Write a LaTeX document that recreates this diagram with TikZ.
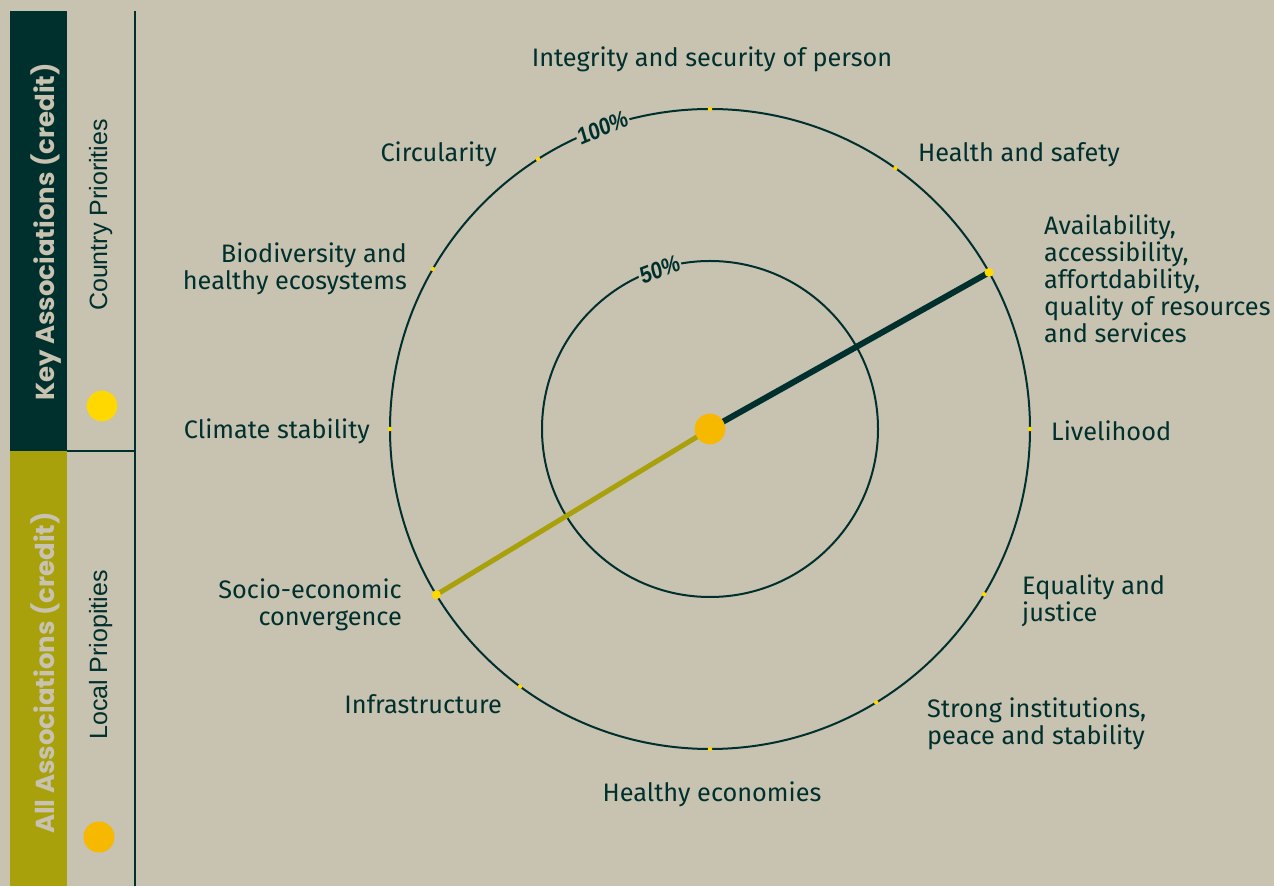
\documentclass[tikz,border=0pt]{standalone}
\usepackage{fontspec}
\setmainfont{Fira Sans}
\newfontfamily\headfont{Poppins}
\newfontfamily\sidefont{Liberation Sans}
\usetikzlibrary{calc}
\definecolor{sand}{HTML}{C8C2B0}
\definecolor{ink}{HTML}{00302E}
\definecolor{olive}{HTML}{A9A10C}
\definecolor{gold}{HTML}{FFD800}
\definecolor{amber}{HTML}{F7B900}
\tikzset{
  goal/.style={text=ink, font=\fontsize{25.3}{27}\selectfont, inner sep=0pt},
  tick/.style={circle, fill=gold, inner sep=0pt, minimum size=4.5pt},
  endpt/.style={circle, fill=gold, inner sep=0pt, minimum size=9pt},
  ring/.style={draw=ink, line width=2pt},
  pct/.style={fill=sand, text=ink, font=\sidefont\bfseries\fontsize{24}{24}\selectfont, inner sep=2pt, xscale=0.84},
  head/.style={rotate=90, anchor=base, text=sand, font=\headfont\bfseries\fontsize{26}{26}\selectfont, inner sep=0pt},
  prio/.style={rotate=90, anchor=base, text=ink, font=\sidefont\fontsize{25}{25}\selectfont, inner sep=0pt}
}
\begin{document}
\begin{tikzpicture}[x=1pt, y=1pt]
    \fill[sand] (0,0) rectangle (1274,886);%background
    \useasboundingbox (0,0) rectangle (1274,886);
    % side panel
    \fill[ink] (10,875) rectangle (67,435);%key bar
    \fill[olive] (10,435) rectangle (67,0);%all bar
    \draw[ink, line width=2pt] (135,875) -- (135,0);%divider
    \draw[ink, line width=2pt] (67,435) -- (135,435);
    \node (key) [head] at (54,654) {Key Associations (credit)};
    \node (all) [head] at (54,213) {All Associations (credit)};
    \node (country) [prio] at (107,671) {Country Priorities};
    \node (local) [prio] at (107,231) {Local Priopities};
    \node (kdot) [circle, fill=gold, minimum size=30.6pt, inner sep=0pt] at (102,480) {};%yellow key
    \node (adot) [circle, fill=amber, minimum size=31pt, inner sep=0pt] at (99,49) {};%amber key
    % rings
    \coordinate (c) at (710,457);
    \draw[ring] (c) circle (320);%100% ring
    \draw[ring] (c) circle (168);%50% ring
    \node (p100) [pct, rotate=19.6] at ($(c)+(109.6:320)$) {100\%};
    \node (p50) [pct, rotate=17.5] at ($(c)+(107.5:167)$) {50\%};
    % points on the outer ring
    \foreach \a/\i in {90/1, 54.6/2, 29.3/3, 0/4, -31.1/5, -58.7/6, -90/7, -126.4/8, -148.8/9, 180/10, 150/11, 122.5/12}
        \coordinate (r\i) at ($(c)+(\a:320)$);
    \draw[ink, line width=6pt] (c) -- (r3);%key association
    \draw[olive, line width=5pt] (c) -- (r9);%all association
    \foreach \i in {1,2,4,5,6,7,8,10,11,12}
        \node (d\i) [tick] at (r\i) {};
    \node (d3) [endpt] at (r3) {};
    \node (d9) [endpt] at (r9) {};
    \node (hub) [circle, fill=amber, minimum size=30.6pt, inner sep=0pt] at (c) {};%centre
    % labels
    \node (l1) [goal, anchor=base] at (712,819) {Integrity and security of person};
    \node (l2) [goal, anchor=base west] at (918,724) {Health and safety};
    \node (l3) [goal, anchor=west, align=left] at (1044,607) {Availability,\\accessibility,\\affortdability,\\quality of resources\\and services};
    \node (l4) [goal, anchor=base west] at (1051,445) {Livelihood};
    \node (l5) [goal, anchor=west, align=left] at (1022,285) {Equality and\\justice};
    \node (l6) [goal, anchor=west, align=left] at (927,162) {Strong institutions,\\peace and stability};
    \node (l7) [goal, anchor=base] at (712,84) {Healthy economies};
    \node (l8) [goal, anchor=base east] at (502,172) {Infrastructure};
    \node (l9) [goal, anchor=east, align=right] at (402,281) {Socio-economic\\convergence};
    \node (l10) [goal, anchor=base east] at (370,447) {Climate stability};
    \node (l11) [goal, anchor=east, align=right] at (407,617) {Biodiversity and\\healthy ecosystems};
    \node (l12) [goal, anchor=base east] at (497,724) {Circularity};
\end{tikzpicture}
\end{document}
